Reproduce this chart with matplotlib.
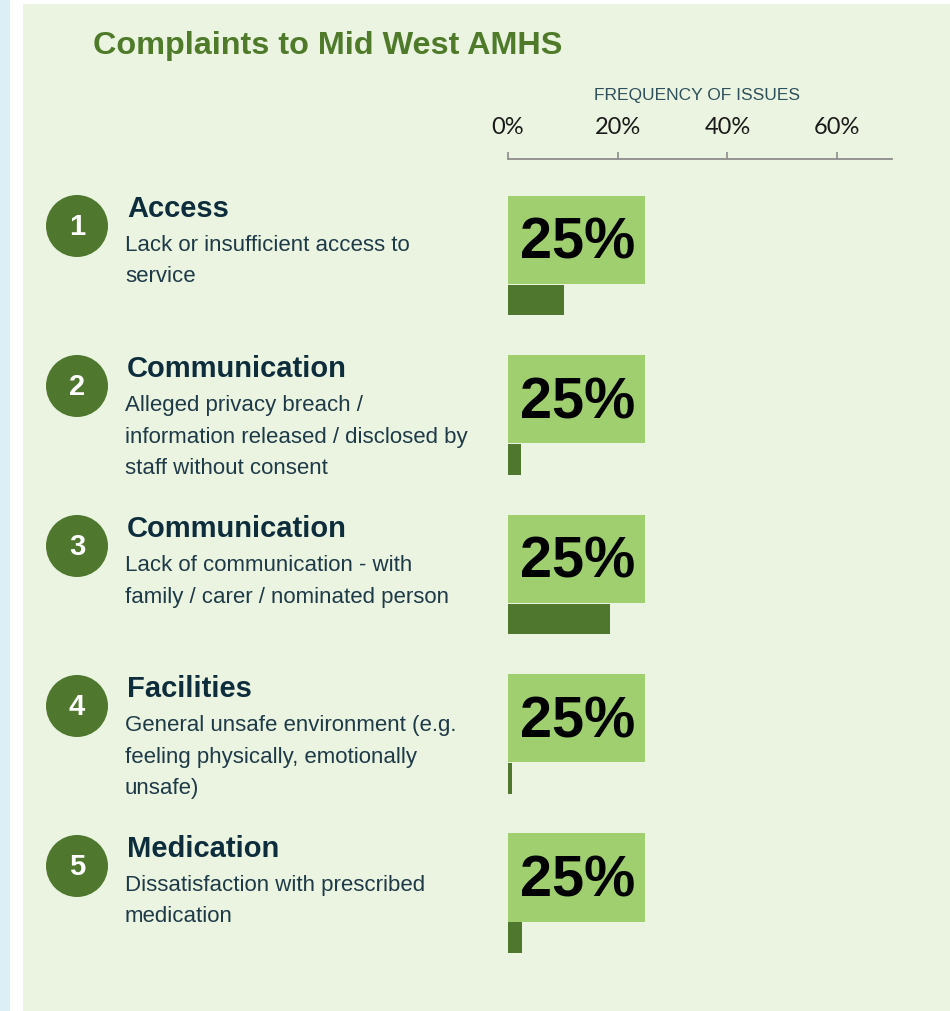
import matplotlib.pyplot as plt
from matplotlib.patches import Circle, Rectangle

# data
numbers = ["1", "2", "3", "4", "5"]
categories = ["Access", "Communication", "Communication", "Facilities", "Medication"]
descriptions = [
    ["Lack or insufficient access to", "service"],
    ["Alleged privacy breach /", "information released / disclosed by", "staff without consent"],
    ["Lack of communication - with", "family / carer / nominated person"],
    ["General unsafe environment (e.g.", "feeling physically, emotionally", "unsafe)"],
    ["Dissatisfaction with prescribed", "medication"],
]
label_values = [25, 25, 25, 25, 25]
frequency = [10.2, 2.3, 18.6, 0.8, 2.6]
tick_values = [0, 20, 40, 60]
tick_labels = ["0%", "20%", "40%", "60%"]

BG = "#EAF4E0"
DARK = "#4F772D"
LIGHT = "#9FCF6F"
NAVY = "#0E2D3C"
TEXT = "#1E3A48"

W, H = 950, 1011
fig = plt.figure(figsize=(W / 100, H / 100), dpi=100)
fig.patch.set_facecolor("white")

# background layer in pixel coordinates
bg = fig.add_axes([0, 0, 1, 1])
bg.set_xlim(0, W)
bg.set_ylim(H, 0)
bg.axis("off")
bg.add_patch(Rectangle((0, 0), 10, H, color="#DCEFF7", lw=0))
bg.add_patch(Rectangle((23, 4), W - 23, H - 4, color=BG, lw=0))

bg.text(93, 54, "Complaints to Mid West AMHS", fontsize=23.3, fontweight="bold",
        color="#4E7A2A", family="Liberation Sans", va="baseline")
bg.text(697, 100, "FREQUENCY OF ISSUES", fontsize=12.5, color="#2E4F5C",
        family="Liberation Sans", ha="center", va="baseline")

row_gap = 160
for i, num in enumerate(numbers):
    y0 = 217 + row_gap * i
    bg.add_patch(Circle((77, y0 + 9), 31, color=DARK, lw=0))
    bg.text(77, y0 + 10, num, color="white", fontsize=21, fontweight="bold",
            family="Liberation Sans", ha="center", va="center")
    bg.text(127, y0, categories[i], fontsize=21, fontweight="bold", color=NAVY,
            family="Liberation Sans", va="baseline")
    for j, line in enumerate(descriptions[i]):
        bg.text(125, y0 + 34 + 31.5 * j, line, fontsize=16, color=TEXT,
                family="Liberation Sans", va="baseline")

# bar layer
ax = fig.add_axes([508 / W, 0, 384 / W, 852 / H])
ax.patch.set_alpha(0)
rows = list(range(len(categories)))
ax.barh(rows, label_values, height=0.552, color=LIGHT, lw=0)
for r, v in zip(rows, label_values):
    ax.annotate(f"{v}%", xy=(v / 2, r), xytext=(1, -3), textcoords="offset points",
                ha="center", va="center", fontsize=41.5, fontweight="bold",
                color="black", family="Liberation Sans")
ax.barh([r + 0.379 for r in rows], frequency, height=0.194, color=DARK, lw=0)

ax.set_xlim(0, 70)
ax.set_ylim(4.837, -0.505)
for side in ["left", "right", "bottom"]:
    ax.spines[side].set_visible(False)
ax.spines["top"].set_color("#8C8C8C")
ax.spines["top"].set_linewidth(1.3)
ax.xaxis.tick_top()
ax.set_xticks(tick_values)
ax.set_xticklabels(tick_labels)
ax.tick_params(axis="x", direction="out", length=5, width=1.2, color="#8C8C8C",
               pad=10, labelsize=17, labelcolor="#1A1A1A")
for lab in ax.get_xticklabels():
    lab.set_family("Lato")
ax.set_yticks([])

fig.savefig("out.png", dpi=100, facecolor=fig.get_facecolor())
